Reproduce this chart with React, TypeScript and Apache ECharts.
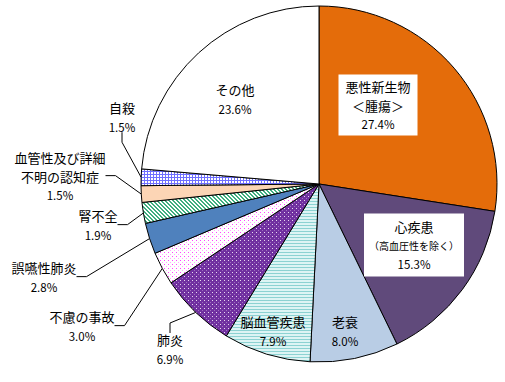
import React, { useEffect, useRef } from "react";
import * as echarts from "echarts";

const categories = [
  "悪性新生物\n＜腫瘍＞",
  "心疾患",
  "老衰",
  "脳血管疾患",
  "肺炎",
  "不慮の事故",
  "誤嚥性肺炎",
  "腎不全",
  "血管性及び詳細\n不明の認知症",
  "自殺",
  "その他",
];
const values = [27.4, 15.3, 8.0, 7.9, 6.9, 3.0, 2.8, 1.9, 1.5, 1.5, 23.6];
const subNotes = ["", "（高血圧性を除く）", "", "", "", "", "", "", "", "", ""];

// label anchor points (layout only)
const labelPos: [number, number][] = [
  [378, 105],
  [414, 245],
  [345, 331],
  [273, 331],
  [170, 349],
  [82, 326],
  [44, 277],
  [98, 225],
  [60, 176],
  [122, 117],
  [235, 99],
];
const insideIdx = [0, 1, 2, 3, 10];

function makePattern(
  w: number,
  h: number,
  bg: string,
  draw: (ctx: CanvasRenderingContext2D) => void
) {
  const c = document.createElement("canvas");
  c.width = w;
  c.height = h;
  const ctx = c.getContext("2d")!;
  ctx.fillStyle = bg;
  ctx.fillRect(0, 0, w, h);
  draw(ctx);
  return { image: c, repeat: "repeat" } as any;
}

export default function App() {
  const ref = useRef<HTMLDivElement>(null);
  useEffect(() => {
    document.body.style.margin = "0";
    const chart = echarts.init(ref.current!, null, { renderer: "svg" });

    const cerebro = makePattern(4, 3, "#DDF4F4", (ctx) => {
      ctx.fillStyle = "#8CD2D2";
      ctx.fillRect(0, 0, 4, 1);
    });
    const pneumonia = makePattern(4, 4, "#7030A0", (ctx) => {
      ctx.fillStyle = "#E8D8F0";
      ctx.fillRect(0, 0, 1, 1);
      ctx.fillStyle = "#A070C0";
      ctx.fillRect(2, 2, 1, 1);
    });
    const accident = makePattern(4, 4, "#FFFFFF", (ctx) => {
      ctx.fillStyle = "#FF44FF";
      ctx.fillRect(0, 0, 1, 1);
      ctx.fillStyle = "#FFAAFF";
      ctx.fillRect(2, 2, 1, 1);
    });
    const renal = makePattern(4, 4, "#FFFFFF", (ctx) => {
      ctx.fillStyle = "#3FAF7F";
      for (let i = 0; i < 4; i++) {
        ctx.fillRect(i, i, 1, 1);
        ctx.fillRect((i + 1) % 4, i, 1, 1);
      }
    });
    const suicide = makePattern(3, 3, "#FFFFFF", (ctx) => {
      ctx.fillStyle = "#6F6FFF";
      ctx.fillRect(0, 0, 3, 1);
      ctx.fillRect(0, 0, 1, 3);
    });

    const colors: any[] = [
      "#E46C0A",
      "#604A7B",
      "#B9CDE5",
      cerebro,
      pneumonia,
      accident,
      "#4F81BD",
      renal,
      "#FCD5B5",
      suicide,
      "#FFFFFF",
    ];

    const ff = "'Noto Sans CJK JP', sans-serif";
    const rich = {
      n: { fontFamily: ff, fontSize: 13, lineHeight: 19, color: "#000" },
      s: { fontFamily: ff, fontSize: 10, lineHeight: 19, color: "#000" },
      p: { fontFamily: ff, fontSize: 11.5, lineHeight: 19, color: "#000" },
    };

    const data = categories.map((name, i) => {
      const inside = insideIdx.includes(i);
      const item: any = {
        name,
        value: values[i],
        itemStyle: { color: colors[i] },
        label: {
          show: true,
          position: inside ? "inside" : "outside",
          align: "center",
          rich,
        },
        labelLine: { show: !inside },
      };
      if (i === 0) {
        item.label.backgroundColor = "#fff";
        item.label.padding = [2, 7, 2, 7];
      }
      if (i === 1) {
        item.label.backgroundColor = "#fff";
        item.label.padding = [3, 5, 3, 5];
      }
      return item;
    });

    chart.setOption({
      animation: false,
      backgroundColor: "#fff",
      series: [
        {
          type: "pie",
          center: [319, 184],
          radius: 178,
          startAngle: 90,
          clockwise: true,
          avoidLabelOverlap: false,
          itemStyle: { borderColor: "#000", borderWidth: 1 },
          label: {
            formatter: (p: any) => {
              const lines = String(p.name)
                .split("\n")
                .map((l: string) => `{n|${l}}`);
              const note = subNotes[p.dataIndex];
              if (note) lines.push(`{s|${note}}`);
              lines.push(`{p|${p.value.toFixed(1)}%}`);
              return lines.join("\n");
            },
          },
          labelLine: {
            show: true,
            length: 10,
            length2: 10,
            lineStyle: { color: "#000", width: 1 },
          },
          labelLayout: (p: any) => {
            const [x, y] = labelPos[p.dataIndex];
            return { x, y, align: "center", verticalAlign: "middle" };
          },
          emphasis: { disabled: true },
          data,
        },
      ],
    });
    return () => chart.dispose();
  }, []);
  return <div ref={ref} style={{ width: 505, height: 382 }} />;
}
